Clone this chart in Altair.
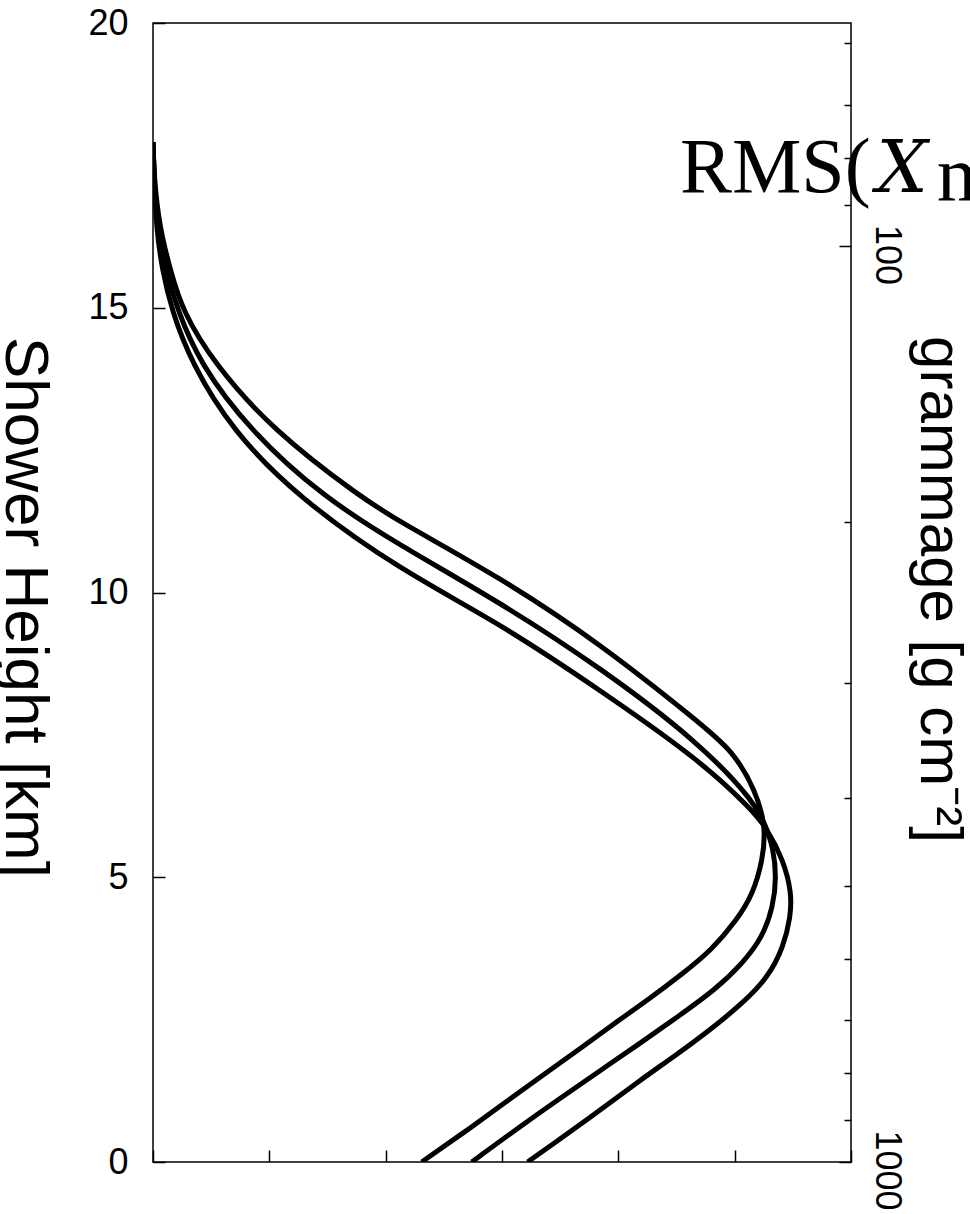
import altair as alt
import pandas as pd

# Longitudinal profiles: shower height [km] vs. shower size (arbitrary units)
height_a = [17.91, 17.24, 16.37, 15.66, 14.96, 14.03, 12.85, 11.68, 11.24, 10.27, 9.11, 7.71, 7.23,
            6.53, 5.88, 5.30, 4.72, 4.25, 3.72, 3.32, 2.84, 2.44, 2.02, 1.58, 1.14, 0.60, 0.00]
size_a = [0.00, 0.01, 0.06, 0.15, 0.25, 0.52, 1.03, 1.78, 2.12, 2.98, 3.84, 4.70, 4.98,
          5.18, 5.27, 5.24, 5.16, 5.02, 4.80, 4.56, 4.25, 3.97, 3.69, 3.39, 3.09, 2.73, 2.31]

height_b = [17.91, 17.24, 16.37, 15.66, 14.96, 14.03, 12.85, 11.68, 10.83, 9.83, 8.69, 7.36, 6.30,
            5.88, 5.53, 5.00, 4.48, 3.95, 3.49, 3.02, 2.55, 2.09, 1.67, 1.26, 0.72, 0.00]
size_b = [0.00, 0.01, 0.04, 0.11, 0.21, 0.40, 0.83, 1.46, 2.12, 2.98, 3.84, 4.70, 5.18,
          5.27, 5.33, 5.36, 5.33, 5.24, 5.07, 4.83, 4.51, 4.19, 3.89, 3.60, 3.22, 2.74]

height_c = [17.91, 17.24, 16.37, 15.66, 14.96, 14.03, 12.85, 11.68, 10.40, 9.46, 8.29, 7.06, 6.18,
            5.88, 5.30, 4.72, 4.30, 3.78, 3.25, 2.79, 2.32, 1.84, 1.44, 0.86, 0.26, 0.00]
size_c = [0.00, 0.01, 0.03, 0.08, 0.16, 0.33, 0.68, 1.24, 2.12, 2.98, 3.84, 4.70, 5.15,
          5.27, 5.42, 5.49, 5.48, 5.42, 5.29, 5.07, 4.79, 4.47, 4.19, 3.81, 3.40, 3.22]

height_ticks = [0, 5, 10, 15, 20]
size_ticks = [0, 1, 2, 3, 4, 5, 6]
grammage_ticks = [60, 70, 80, 90, 100, 200, 300, 400, 500, 600, 700, 800, 900, 1000]
grammage_labeled = [100, 1000]

# Annotation pieces: upright text, italic symbol, lowered subscript
note_text = ["RMS(", "X", "max"]
note_size = [4.53, 6.22, 6.74]
note_height = [17.03, 17.03, 16.89]

rows = []
for name, hs, ss in [("a", height_a, size_a), ("b", height_b, size_b), ("c", height_c, size_c)]:
    for i, (h, s) in enumerate(zip(hs, ss)):
        rows.append({"profile": name, "height": h, "size": s, "step": i})
profiles = pd.DataFrame(rows)

x_scale = alt.Scale(domain=[0, 6], nice=False, zero=False)
y_scale = alt.Scale(domain=[0, 20], nice=False, zero=False)

x_axis = alt.Axis(values=size_ticks, labels=False, title=None,
                  tickSize=alt.ExprRef("-12"), domain=False, grid=False)
y_axis = alt.Axis(values=height_ticks, format="d", labelFontSize=36, labelPadding=37,
                  tickSize=alt.ExprRef("-12"), labelFlush=False, labelOverlap=False,
                  domain=False, grid=False,
                  title="Shower Height [km]", titleFontSize=62, titleAngle=90,
                  titleX=-148, titleY=584, titleAlign="center", titleBaseline="alphabetic")

lines = alt.Chart(profiles).mark_line(
    color="black", strokeWidth=5, interpolate="basis", clip=True
).encode(
    x=alt.X("size:Q", scale=x_scale, axis=x_axis),
    y=alt.Y("height:Q", scale=y_scale, axis=y_axis),
    detail="profile:N",
    order=alt.Order("step:Q"),
)


def note_layer(i, font, size, style):
    frame = pd.DataFrame({"size": [note_size[i]], "height": [note_height[i]], "text": [note_text[i]]})
    return alt.Chart(frame).mark_text(
        align="left", baseline="alphabetic", font=font,
        fontSize=size, fontStyle=style, color="black"
    ).encode(
        x=alt.X("size:Q", scale=x_scale, axis=x_axis),
        y=alt.Y("height:Q", scale=y_scale, axis=y_axis),
        text="text:N",
    )


inner = alt.layer(
    lines,
    note_layer(0, "Liberation Serif", 78, "normal"),
    note_layer(1, "DejaVu Serif", 72, "italic"),
    note_layer(2, "Liberation Serif", 78, "normal"),
)

labeled_test = " || ".join(f"datum.value == {v}" for v in grammage_labeled)
gram_axis = alt.Axis(orient="right", values=grammage_ticks,
                     labelExpr=f"({labeled_test}) ? format(datum.value, 'd') : ''",
                     labelAngle=90, labelAlign="center", labelBaseline="alphabetic",
                     labelFontSize=36, labelPadding=36, labelOffset=8,
                     labelFlush=False, labelOverlap=False,
                     tickSize=alt.ExprRef(f"({labeled_test}) ? -12 : -7"),
                     title="grammage [g cm⁻²]", titleFontSize=60, titleAngle=90,
                     titleX=69, titleY=566, titleAlign="center", titleBaseline="alphabetic",
                     domain=False, grid=False)

gram = alt.Chart(pd.DataFrame({"grammage": grammage_ticks})).mark_point(opacity=0).encode(
    y=alt.Y("grammage:Q",
            scale=alt.Scale(type="log", domain=[57, 1000], reverse=True, nice=False),
            axis=gram_axis)
)

chart = alt.layer(inner, gram).resolve_scale(y="independent").properties(
    width=698, height=1139,
    padding={"left": 153, "top": 23, "right": 119, "bottom": 52},
    autosize=alt.AutoSizeParams(type="none"),
).configure_view(
    stroke="black", strokeWidth=1.5
).configure_axis(
    grid=False, domain=False, labelFont="Liberation Sans", titleFont="Liberation Sans",
    labelColor="black", titleColor="black", tickColor="black", tickWidth=1.5,
    titleFontWeight="normal"
)

chart.save("out.html", embed_options={"renderer": "svg", "actions": False})
